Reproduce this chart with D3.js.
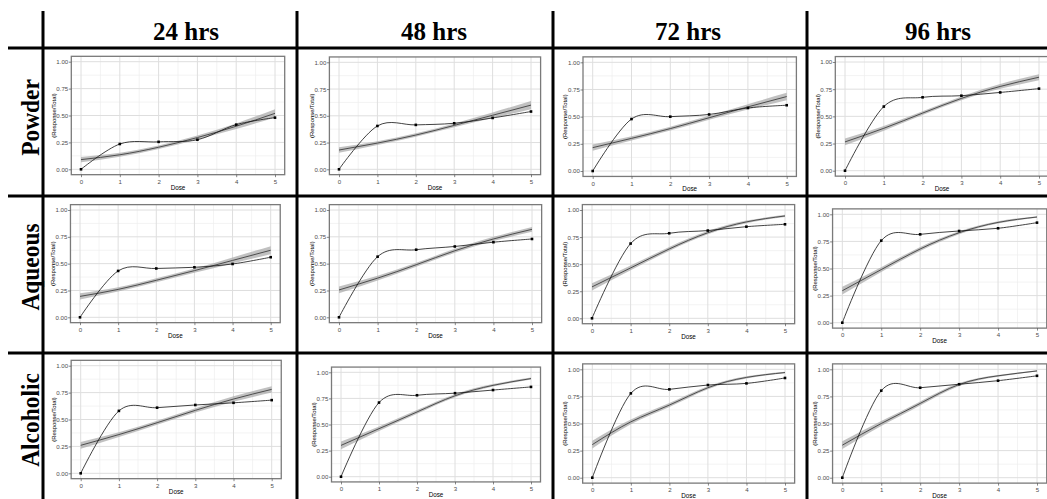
<!DOCTYPE html>
<html>
<head>
<meta charset="utf-8">
<script src="https://cdn.jsdelivr.net/npm/d3@7"></script>
<style>
  body { margin: 0; background: #fff; }
  svg { display: block; }
</style>
</head>
<body>
<script>
const times = ["24 hrs", "48 hrs", "72 hrs", "96 hrs"];
const forms = ["Powder", "Aqueous", "Alcoholic"];
const doses = [0, 1, 2, 3, 4, 5];
const yTicks = [0, 0.25, 0.5, 0.75, 1];

// observed proportion (Response/Total) per dose, one row per time
const obsPowder = [
  [0, 0.235, 0.255, 0.275, 0.415, 0.48],
  [0, 0.405, 0.415, 0.43, 0.48, 0.54],
  [0, 0.478, 0.50, 0.52, 0.58, 0.605],
  [0, 0.59, 0.675, 0.69, 0.72, 0.755]
];
const obsAqueous = [
  [0, 0.432, 0.455, 0.466, 0.497, 0.56],
  [0, 0.565, 0.63, 0.66, 0.70, 0.73],
  [0, 0.69, 0.785, 0.81, 0.846, 0.868],
  [0, 0.757, 0.815, 0.846, 0.871, 0.923]
];
const obsAlcoholic = [
  [0, 0.58, 0.61, 0.635, 0.655, 0.68],
  [0, 0.71, 0.78, 0.80, 0.83, 0.86],
  [0, 0.778, 0.815, 0.855, 0.87, 0.92],
  [0, 0.803, 0.83, 0.862, 0.895, 0.94]
];

// fitted curve read at each dose
const fitPowder = [
  [0.09, 0.135, 0.205, 0.295, 0.40, 0.52],
  [0.18, 0.245, 0.32, 0.41, 0.505, 0.60],
  [0.215, 0.30, 0.39, 0.49, 0.59, 0.685],
  [0.265, 0.39, 0.53, 0.665, 0.775, 0.86]
];
const fitAqueous = [
  [0.195, 0.26, 0.345, 0.435, 0.53, 0.625],
  [0.255, 0.365, 0.49, 0.62, 0.73, 0.82],
  [0.29, 0.465, 0.64, 0.79, 0.89, 0.945],
  [0.295, 0.49, 0.68, 0.83, 0.925, 0.975]
];
const fitAlcoholic = [
  [0.26, 0.36, 0.47, 0.585, 0.69, 0.78],
  [0.30, 0.46, 0.62, 0.775, 0.875, 0.94],
  [0.305, 0.515, 0.67, 0.83, 0.925, 0.97],
  [0.30, 0.50, 0.685, 0.86, 0.94, 0.985]
];

// half width of the confidence band at each dose
const bandPowder = [
  [0.024, 0.018, 0.016, 0.018, 0.026, 0.038],
  [0.025, 0.018, 0.016, 0.018, 0.026, 0.038],
  [0.028, 0.02, 0.018, 0.018, 0.024, 0.034],
  [0.032, 0.022, 0.018, 0.018, 0.022, 0.028]
];
const bandAqueous = [
  [0.028, 0.02, 0.018, 0.02, 0.028, 0.038],
  [0.032, 0.022, 0.018, 0.018, 0.02, 0.022],
  [0.034, 0.022, 0.018, 0.015, 0.012, 0.01],
  [0.036, 0.022, 0.018, 0.013, 0.01, 0.007]
];
const bandAlcoholic = [
  [0.032, 0.022, 0.018, 0.02, 0.025, 0.03],
  [0.036, 0.022, 0.018, 0.015, 0.012, 0.01],
  [0.036, 0.022, 0.018, 0.013, 0.01, 0.007],
  [0.036, 0.022, 0.018, 0.013, 0.008, 0.006]
];

const observed = [obsPowder, obsAqueous, obsAlcoholic];
const fitted = [fitPowder, fitAqueous, fitAlcoholic];
const bands = [bandPowder, bandAqueous, bandAlcoholic];

// layout: pixel spots of dose 0 / dose 5 and of 0.00 / 1.00 in every panel
const panels = [
  [{x0: 81, x5: 275, y0: 169.3, y1: 61.7}, {x0: 339, x5: 531, y0: 169.3, y1: 62.3},
   {x0: 592.7, x5: 786.7, y0: 171, y1: 62.3}, {x0: 845, x5: 1039, y0: 170.7, y1: 62}],
  [{x0: 80, x5: 270.7, y0: 317.3, y1: 210}, {x0: 339, x5: 532, y0: 317.3, y1: 210},
   {x0: 592, x5: 785, y0: 318.3, y1: 210}, {x0: 842.3, x5: 1037, y0: 322.7, y1: 214.3}],
  [{x0: 80.7, x5: 271.7, y0: 473.3, y1: 365.7}, {x0: 341, x5: 531, y0: 476.7, y1: 372.3},
   {x0: 592.3, x5: 785, y0: 477.7, y1: 369.3}, {x0: 842.3, x5: 1037, y0: 477.7, y1: 369.3}]
];
const headerX = [186, 434, 688, 938];
const rowMid = [117.5, 267, 420];

var width = 1047, height = 499;
var sans = "'Liberation Sans', Arial, sans-serif",
    serif = "'Liberation Serif', 'Times New Roman', serif";

var svg = d3.select("body").append("svg")
    .attr("width", width)
    .attr("height", height);

svg.append("rect").attr("width", width).attr("height", height).attr("fill", "#fff");

var minorX = doses.slice(1).map(d => d - 0.5),
    minorY = yTicks.slice(1).map(d => d - 0.125);

forms.forEach(function(form, r) {
  times.forEach(function(time, c) {
    var p = panels[r][c],
        obs = observed[r][c],
        fit = fitted[r][c],
        band = bands[r][c];

    var x = d3.scaleLinear().domain([0, 5]).range([p.x0, p.x5]),
        y = d3.scaleLinear().domain([0, 1]).range([p.y0, p.y1]);

    var left = x(-0.25), right = x(5.25), top = y(1.05), bottom = y(-0.05);

    var g = svg.append("g");

    g.append("rect")
        .attr("x", left).attr("y", top)
        .attr("width", right - left).attr("height", bottom - top)
        .attr("fill", "#fff");

    // grid
    g.selectAll(".minx").data(minorX).enter().append("line")
        .attr("x1", d => x(d)).attr("x2", d => x(d))
        .attr("y1", top).attr("y2", bottom)
        .attr("stroke", "#eeeeee").attr("stroke-width", 0.7);
    g.selectAll(".miny").data(minorY).enter().append("line")
        .attr("x1", left).attr("x2", right)
        .attr("y1", d => y(d)).attr("y2", d => y(d))
        .attr("stroke", "#eeeeee").attr("stroke-width", 0.7);
    g.selectAll(".majx").data(doses).enter().append("line")
        .attr("x1", d => x(d)).attr("x2", d => x(d))
        .attr("y1", top).attr("y2", bottom)
        .attr("stroke", "#dedede").attr("stroke-width", 1);
    g.selectAll(".majy").data(yTicks).enter().append("line")
        .attr("x1", left).attr("x2", right)
        .attr("y1", d => y(d)).attr("y2", d => y(d))
        .attr("stroke", "#dedede").attr("stroke-width", 1);

    // confidence band and fitted curve
    var area = d3.area()
        .x((d, i) => x(doses[i]))
        .y0((d, i) => y(d - band[i]))
        .y1((d, i) => y(d + band[i]))
        .curve(d3.curveNatural);
    g.append("path").datum(fit)
        .attr("d", area)
        .attr("fill", "#a6a6a6").attr("fill-opacity", 0.7);

    var fitLine = d3.line()
        .x((d, i) => x(doses[i]))
        .y(d => y(d))
        .curve(d3.curveNatural);
    g.append("path").datum(fit)
        .attr("d", fitLine)
        .attr("fill", "none").attr("stroke", "#404040").attr("stroke-width", 0.9);

    // observed points joined by a spline
    var obsLine = d3.line()
        .x((d, i) => x(doses[i]))
        .y(d => y(d))
        .curve(d3.curveCatmullRom.alpha(0));
    g.append("path").datum(obs)
        .attr("d", obsLine)
        .attr("fill", "none").attr("stroke", "#111").attr("stroke-width", 0.8);
    g.selectAll(".pt").data(obs).enter().append("rect")
        .attr("x", (d, i) => x(doses[i]) - 1.3)
        .attr("y", d => y(d) - 1.3)
        .attr("width", 2.6).attr("height", 2.6)
        .attr("fill", "#000");

    g.append("rect")
        .attr("x", left).attr("y", top)
        .attr("width", right - left).attr("height", bottom - top)
        .attr("fill", "none").attr("stroke", "#7a7a7a").attr("stroke-width", 1.3);

    // axes
    var yAxis = g.append("g")
        .attr("transform", "translate(" + left + ",0)")
        .call(d3.axisLeft(y).tickValues(yTicks).tickFormat(d3.format(".2f")).tickSize(2.5).tickPadding(0.6));
    var xAxis = g.append("g")
        .attr("transform", "translate(0," + bottom + ")")
        .call(d3.axisBottom(x).tickValues(doses).tickFormat(d3.format("d")).tickSize(2.5).tickPadding(2.3));
    [xAxis, yAxis].forEach(function(a) {
      a.select(".domain").remove();
      a.selectAll(".tick line").attr("stroke", "#555").attr("stroke-width", 0.7);
      a.selectAll(".tick text")
          .attr("fill", "#4d4d4d")
          .style("font-family", sans)
          .style("font-size", "6.1px");
    });

    g.append("text")
        .attr("x", (left + right) / 2).attr("y", bottom + 15)
        .attr("text-anchor", "middle")
        .style("font-family", sans)
        .style("font-size", "6.3px")
        .text("Dose");

    g.append("text")
        .attr("transform", "translate(" + (left - 15.6) + "," + ((top + bottom) / 2) + ") rotate(-90)")
        .attr("text-anchor", "middle")
        .style("font-family", sans)
        .style("font-size", "5.9px")
        .text("(Response/Total)");
  });
});

// table headers
svg.selectAll(".head").data(times).enter().append("text")
    .attr("x", (d, i) => headerX[i]).attr("y", 40)
    .attr("text-anchor", "middle")
    .style("font-family", serif)
    .style("font-weight", "bold")
    .style("font-size", "25px")
    .text(d => d);

svg.selectAll(".rowlab").data(forms).enter().append("text")
    .attr("transform", (d, i) => "translate(38.5," + rowMid[i] + ") rotate(-90) scale(0.9,1)")
    .attr("text-anchor", "middle")
    .style("font-family", serif)
    .style("font-weight", "bold")
    .style("font-size", "26px")
    .text(d => d);

// table rules
var vLines = [43, 297, 553, 807],
    hLines = [48, 196, 353];

svg.selectAll(".vline").data(vLines).enter().append("line")
    .attr("x1", d => d).attr("x2", d => d)
    .attr("y1", 11).attr("y2", height)
    .attr("stroke", "#000").attr("stroke-width", 3);

svg.selectAll(".hline").data(hLines).enter().append("line")
    .attr("x1", 8).attr("x2", width)
    .attr("y1", d => d).attr("y2", d => d)
    .attr("stroke", "#000").attr("stroke-width", 2.8);
</script>
</body>
</html>
